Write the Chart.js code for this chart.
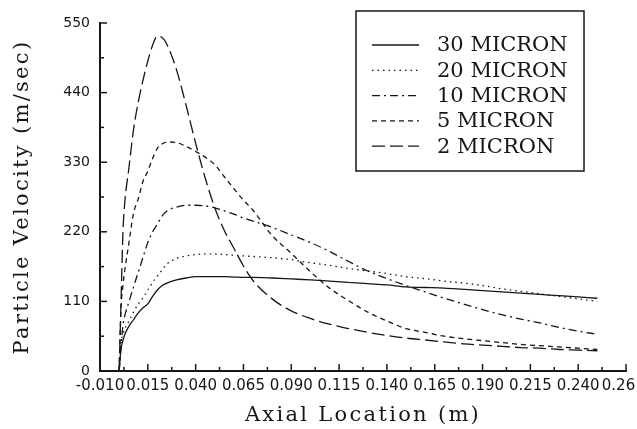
<!DOCTYPE html>
<html>
<head>
<meta charset="utf-8">
<script src="https://cdn.jsdelivr.net/npm/chart.js@4.4.1/dist/chart.umd.min.js"></script>
<style>
  body { margin: 0; background: #fff; }
  canvas { display: block; }
</style>
</head>
<body>
<canvas id="velocityChart" width="637" height="429"></canvas>
<script>
// axial location (m), shared by every series
const axialLocation = [0, 0.001, 0.002, 0.003, 0.005, 0.0075, 0.01, 0.0125, 0.015, 0.0175,
  0.02, 0.0225, 0.025, 0.03, 0.035, 0.04, 0.045, 0.05, 0.055, 0.06,
  0.065, 0.07, 0.08, 0.09, 0.1, 0.11, 0.12, 0.13, 0.14, 0.15,
  0.16, 0.17, 0.18, 0.19, 0.2, 0.21, 0.22, 0.23, 0.24, 0.25];

// particle velocity (m/sec)
const micron30 = [0, 35, 48, 58, 70, 81, 92, 100, 106, 118,
  128, 135, 139, 144, 147, 149, 149, 149, 149, 148.5,
  148, 148, 147, 145.5, 144, 142, 140, 138, 136, 133,
  132, 131, 129, 127, 125, 123, 121, 119, 117, 115];
const micron20 = [0, 45, 58, 67, 78, 93, 106, 116, 128, 140,
  150, 160, 169, 178, 182, 184, 185, 185, 184, 183,
  182, 181, 179, 176, 171, 167, 162, 158, 154, 149,
  146, 142, 139, 135, 130, 126, 122, 118, 114, 110];
const micron10 = [0, 40, 72, 88, 108, 133, 156, 180, 203, 220,
  232, 245, 253, 259, 262, 262, 261, 258, 253, 248,
  242, 237, 227, 215, 203, 189, 173, 158, 146, 135,
  125, 115, 106, 97, 89, 82, 76, 69, 63, 58];
const micron5 = [0, 100, 135, 160, 200, 249, 272, 300, 316, 336,
  352, 359, 362, 361, 355, 347, 338, 326, 307, 288,
  270, 254, 214, 186, 157, 131, 111, 93, 79, 67,
  61, 55, 51, 48, 45, 42, 40, 38, 36, 34];
const micron2 = [0, 110, 220, 268, 318, 381, 425, 460, 490, 515,
  529, 527, 516, 476, 420, 360, 305, 258, 222, 194,
  166, 143, 114, 95, 83, 74, 67, 61, 56, 52,
  49, 46, 43, 41, 39, 37, 36, 34, 33, 32];

const seriesLabels = ['30 MICRON', '20 MICRON', '10 MICRON', '5 MICRON', '2 MICRON'];
const seriesValues = [micron30, micron20, micron10, micron5, micron2];
const seriesDashes = [[], [1.5, 4], [8, 4, 2, 4], [5, 4], [13, 5]];

const xMin = -0.01, xMax = 0.265, xStep = 0.025;
const yMin = 0, yMax = 550, yStep = 110;

const ink = '#161616';

// inward major/minor ticks, axis titles and the boxed legend
const figureDecor = {
  id: 'figureDecor',
  afterDraw(chart) {
    const ctx = chart.ctx;
    const xs = chart.scales.x, ys = chart.scales.y;
    const area = chart.chartArea;
    ctx.save();
    ctx.strokeStyle = ink;
    ctx.lineWidth = 1.5;
    ctx.setLineDash([]);

    function seg(x1, y1, x2, y2) {
      ctx.beginPath(); ctx.moveTo(x1, y1); ctx.lineTo(x2, y2); ctx.stroke();
    }

    xs.ticks.forEach((t, i) => {
      const px = xs.getPixelForValue(t.value);
      if (i > 0) seg(px, area.bottom, px, area.bottom - 7);
      if (i < xs.ticks.length - 1) {
        const mid = xs.getPixelForValue((t.value + xs.ticks[i + 1].value) / 2);
        seg(mid, area.bottom, mid, area.bottom - 4);
      }
    });
    ys.ticks.forEach((t, i) => {
      const py = ys.getPixelForValue(t.value);
      if (i > 0) seg(area.left, py, area.left + 7, py);
      if (i < ys.ticks.length - 1) {
        const mid = ys.getPixelForValue((t.value + ys.ticks[i + 1].value) / 2);
        seg(area.left, mid, area.left + 4, mid);
      }
    });

    // axis titles
    ctx.fillStyle = ink;
    ctx.font = '21px "DejaVu Serif"';
    ctx.letterSpacing = '2.3px';
    ctx.textAlign = 'center';
    ctx.textBaseline = 'middle';
    ctx.fillText('Axial Location (m)', (area.left + area.right) / 2, 416);
    ctx.save();
    ctx.translate(23, (area.top + area.bottom) / 2);
    ctx.rotate(-Math.PI / 2);
    ctx.fillText('Particle Velocity (m/sec)', 0, 0);
    ctx.restore();

    // legend
    ctx.letterSpacing = '0px';
    ctx.fillStyle = '#fff';
    ctx.fillRect(356, 11, 228, 160);
    ctx.lineWidth = 1.5;
    ctx.strokeRect(356, 11, 228, 160);
    ctx.textAlign = 'left';
    chart.data.datasets.forEach((ds, i) => {
      const ly = 45 + i * 25.3;
      ctx.lineWidth = 1.3;
      ctx.setLineDash(ds.borderDash);
      seg(372, ly, 419, ly);
      ctx.setLineDash([]);
      ctx.fillStyle = ink;
      ctx.fillText(ds.label, 437, ly + 1);
    });
    ctx.restore();
  }
};

new Chart(document.getElementById('velocityChart'), {
  type: 'line',
  data: {
    datasets: seriesLabels.map((label, i) => ({
      label: label,
      data: axialLocation.map((x, j) => ({ x: x, y: seriesValues[i][j] })),
      borderColor: ink,
      borderWidth: 1.3,
      borderDash: seriesDashes[i],
      pointRadius: 0,
      fill: false,
      cubicInterpolationMode: 'monotone'
    }))
  },
  options: {
    responsive: false,
    animation: false,
    layout: { padding: { top: 23, right: 11, left: 0, bottom: 0 } },
    plugins: {
      legend: { display: false },
      tooltip: { enabled: false }
    },
    scales: {
      x: {
        type: 'linear',
        min: xMin,
        max: xMax,
        grid: { display: false, drawTicks: false },
        border: { display: true, color: ink, width: 2 },
        ticks: {
          stepSize: xStep,
          autoSkip: false,
          maxRotation: 0,
          padding: 6,
          color: ink,
          font: { family: 'DejaVu Sans', size: 15 },
          // last label is cut to "0.26" at the figure edge
          callback: (v) => Math.abs(v - xMax) < 1e-6 ? '0.26\u2002\u2002' : v.toFixed(3)
        },
        afterFit: (scale) => {
          scale.height = 58;
          scale.paddingLeft = 0;
          scale.paddingRight = 0;
        }
      },
      y: {
        min: yMin,
        max: yMax,
        grid: { display: false, drawTicks: false },
        border: { display: true, color: ink, width: 2 },
        ticks: {
          stepSize: yStep,
          padding: 10,
          color: ink,
          font: { family: 'DejaVu Sans', size: 14 }
        },
        afterFit: (scale) => { scale.width = 100; }
      }
    }
  },
  plugins: [figureDecor]
});
</script>
</body>
</html>
